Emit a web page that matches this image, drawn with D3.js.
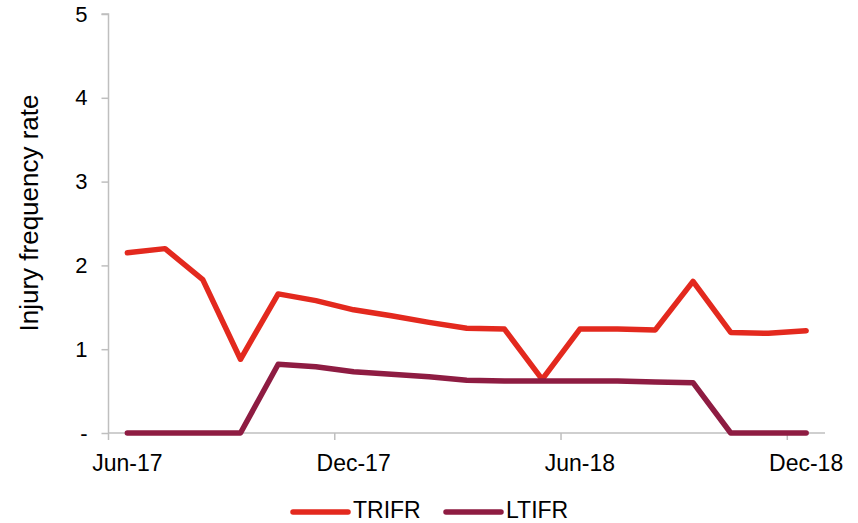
<!DOCTYPE html>
<html>
<head>
<meta charset="utf-8">
<script src="https://cdn.jsdelivr.net/npm/d3@7"></script>
<style>
  html, body { margin: 0; padding: 0; background: #fff; }
  svg { display: block; font-family: "Liberation Sans", Arial, sans-serif; }
</style>
</head>
<body>
<svg id="chart" width="858" height="523"></svg>
<script>
const months = ["Jun-17","Jul-17","Aug-17","Sep-17","Oct-17","Nov-17","Dec-17","Jan-18","Feb-18","Mar-18","Apr-18","May-18","Jun-18","Jul-18","Aug-18","Sep-18","Oct-18","Nov-18","Dec-18"];
const trifr = [2.15, 2.20, 1.83, 0.88, 1.66, 1.58, 1.47, 1.40, 1.32, 1.25, 1.24, 0.64, 1.24, 1.24, 1.23, 1.81, 1.20, 1.19, 1.22];
const ltifr = [0, 0, 0, 0, 0.82, 0.79, 0.73, 0.70, 0.67, 0.63, 0.62, 0.62, 0.62, 0.62, 0.61, 0.60, 0, 0, 0];
const xTickLabels = ["Jun-17", "Dec-17", "Jun-18", "Dec-18"];
const yTicks = [0, 1, 2, 3, 4, 5];
const seriesNames = ["TRIFR", "LTIFR"];
const colors = ["#E3291E", "#8E1C42"];

const svg = d3.select("#chart");
const mLeft = 108.5, mRight = 825, mTop = 14, mBottom = 433;

const x = d3.scaleBand().domain(months).range([mLeft, mRight]).paddingInner(0).paddingOuter(0);
const y = d3.scaleLinear().domain([0, 5]).range([mBottom, mTop]);
const axisColor = "#BFBFBF";

// Y axis
const yAxis = d3.axisLeft(y).tickValues(yTicks).tickSize(7).tickPadding(14)
  .tickFormat(d => d === 0 ? "-" : d3.format("d")(d));
const gy = svg.append("g").attr("transform", `translate(${mLeft},0)`).call(yAxis);
gy.select(".domain").attr("stroke", axisColor).attr("stroke-width", 1.5).attr("d", `M-7,${mTop}H0V${mBottom}`);
gy.selectAll(".tick line").attr("stroke", axisColor).attr("stroke-width", 1.5);
gy.selectAll(".tick text").attr("font-size", 22).attr("fill", "#000").attr("font-family", "Liberation Sans, Arial, sans-serif");

// X axis
const gx = svg.append("g").attr("transform", `translate(0,${mBottom})`);
gx.append("line").attr("x1", mLeft).attr("x2", mRight).attr("y1", 0).attr("y2", 0)
  .attr("stroke", axisColor).attr("stroke-width", 1.5);
gx.selectAll("line.tk").data(xTickLabels).enter().append("line").attr("class", "tk")
  .attr("x1", d => x(d)).attr("x2", d => x(d)).attr("y1", 0).attr("y2", 7)
  .attr("stroke", axisColor).attr("stroke-width", 1.5);
gx.selectAll("text").data(xTickLabels).enter().append("text")
  .attr("x", d => x(d) + x.bandwidth() / 2).attr("y", 38)
  .attr("text-anchor", "middle").attr("font-size", 23).attr("fill", "#000")
  .text(d => d);

// Y title
svg.append("text").attr("transform", `translate(38,${(93 + 333) / 2}) rotate(-90)`)
  .attr("text-anchor", "middle").attr("font-size", 26).attr("fill", "#000")
  .text("Injury frequency rate");

// Lines
const line = d3.line().x((d, i) => x(months[i]) + x.bandwidth() / 2).y(d => y(d));
[trifr, ltifr].forEach((s, k) => {
  svg.append("path").datum(s).attr("d", line).attr("fill", "none")
    .attr("stroke", colors[k]).attr("stroke-width", 5.5)
    .attr("stroke-linejoin", "round").attr("stroke-linecap", "round");
});

// Legend
const legendX = [293, 446];
seriesNames.forEach((n, k) => {
  const g = svg.append("g").attr("transform", `translate(${legendX[k]},512)`);
  g.append("line").attr("x1", 0).attr("x2", 55).attr("y1", 0).attr("y2", 0)
    .attr("stroke", colors[k]).attr("stroke-width", 5.5).attr("stroke-linecap", "round");
  g.append("text").attr("x", 60).attr("y", 5.5).attr("font-size", 23).attr("fill", "#000").text(n);
});
</script>
</body>
</html>
